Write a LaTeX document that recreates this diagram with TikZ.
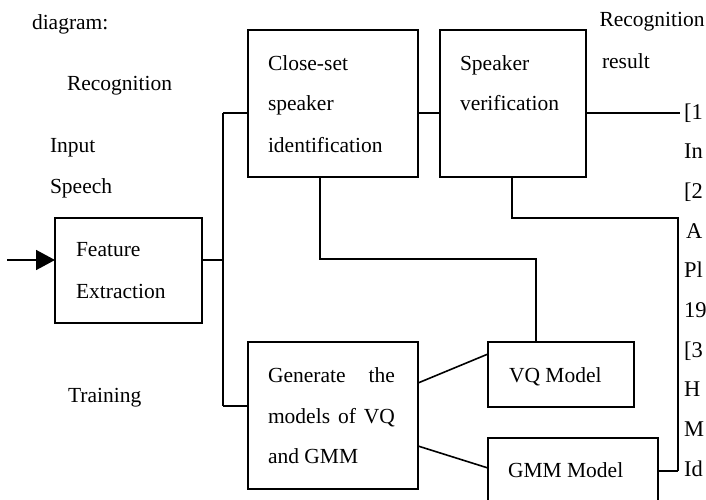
\documentclass[tikz,border=0pt]{standalone}
\usepackage{fontspec}
\setmainfont{Liberation Serif}
\usetikzlibrary{arrows.meta}
\begin{document}
\begin{tikzpicture}[x=1pt,y=-1pt,
  every node/.style={inner sep=0pt,outer sep=0pt},
  box/.style={draw,line width=1.6pt,rectangle,anchor=north west},
  txt/.style={anchor=base west,font=\fontsize{21.5}{26}\selectfont},
  reftxt/.style={anchor=base west,font=\fontsize{22.5}{26}\selectfont},
  conn/.style={line width=1.6pt},
  ]
\useasboundingbox (0,0) rectangle (706,499);
\clip (0,0) rectangle (706,499);
% boxes
\node[box,minimum width=147pt,minimum height=105pt] (fe) at (55,218) {};
\node[box,minimum width=170pt,minimum height=147pt] (cs) at (248,30) {};
\node[box,minimum width=146pt,minimum height=147pt] (sv) at (440,30) {};
\node[box,minimum width=170pt,minimum height=147pt] (gm) at (248,342) {};
\node[box,minimum width=146pt,minimum height=65pt] (vq) at (488,342) {};
\node[box,minimum width=170pt,minimum height=80pt] (gmm) at (488,438) {};
% texts
\node[txt] (t1) at (32,29) {diagram:};
\node[txt] (t2) at (67,90) {Recognition};
\node[txt] (t3) at (50,152) {Input};
\node[txt] (t4) at (50,193) {Speech};
\node[txt] (t5) at (76,256) {Feature};
\node[txt] (t6) at (76,298) {Extraction};
\node[txt] (t7) at (68,402) {Training};
\node[txt] (t8) at (268,70) {Close-set};
\node[txt] (t9) at (268,110) {speaker};
\node[txt] (t10) at (268,152) {identification};
\node[txt] (t11) at (460,70) {Speaker};
\node[txt] (t12) at (460,110) {verification};
\node[txt] (t13) at (599.5,26) {Recognition};
\node[txt] (t14) at (602,68) {result};
\node[txt] (t15) at (268,382) {\makebox[127pt][s]{Generate\hfill the}};
\node[txt] (t16) at (268,423) {\makebox[127pt][s]{models\hfill of\hfill VQ}};
\node[txt] (t17) at (268,463) {and GMM};
\node[txt] (t18) at (509,382) {VQ Model};
\node[txt] (t19) at (508,477) {GMM Model};
% reference column (cut off at the edge)
\node[reftxt] (r1) at (684,119) {[1};
\node[reftxt] (r2) at (684,158.7) {In};
\node[reftxt] (r3) at (684,198.4) {[2};
\node[reftxt] (r4) at (686,238.1) {A};
\node[reftxt] (r5) at (684,277.8) {Pl};
\node[reftxt] (r6) at (684,317.5) {19};
\node[reftxt] (r7) at (684,357.2) {[3};
\node[reftxt] (r8) at (684,396.9) {H};
\node[reftxt] (r9) at (684,436.6) {M};
\node[reftxt] (r10) at (684,476.3) {Id};
% connectors
\coordinate (in) at (7,260);
\coordinate (bt) at (223,113);
\coordinate (bb) at (223,406);
\coordinate (out) at (680,113);
\coordinate (vr) at (678,471);
\draw[conn,-{Triangle[length=19pt,width=20pt]}] (in) -- (fe.west |- in);
\draw[conn] (fe.east |- in) -- (bt |- in);
\draw[conn] (bt) -- (bb);
\draw[conn] (bt) -- (cs.west |- bt);
\draw[conn] (bb) -- (gm.west |- bb);
\draw[conn] (cs.east |- bt) -- (sv.west |- bt);
\draw[conn] (sv.east |- bt) -- (out);
\draw[conn] (cs.south -| 320,0) -- (320,259) -| (vq.north -| 536,0);
\draw[conn] (sv.south -| 512,0) -- (512,218) -| (vr);
\draw[conn] (gmm.east |- vr) -- (vr);
\draw[conn] (gm.east |- 0,383) -- (vq.west |- 0,354);
\draw[conn] (gm.east |- 0,446) -- (gmm.west |- 0,468);
\end{tikzpicture}
\end{document}
